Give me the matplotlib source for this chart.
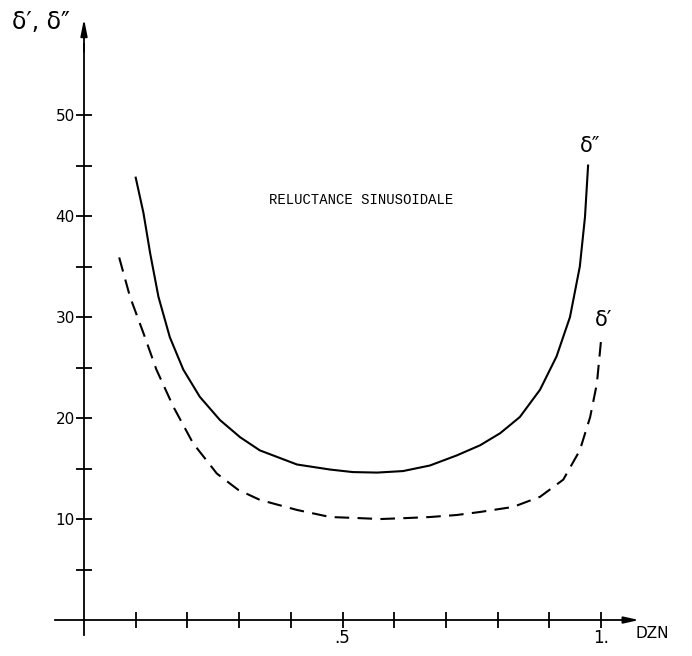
import matplotlib
matplotlib.use("Agg")
from matplotlib import pyplot as plt
import matplotlib.ticker as mticker

# curve delta'' (solid)
dzn_solid = [0.100, 0.115, 0.128, 0.144, 0.166, 0.192, 0.224, 0.263, 0.302,
             0.340, 0.412, 0.476, 0.520, 0.567, 0.617, 0.669, 0.721, 0.766,
             0.805, 0.843, 0.882, 0.914, 0.940, 0.959, 0.969, 0.975]
delta2 = [43.8, 40.3, 36.3, 32.0, 28.0, 24.8, 22.1, 19.8, 18.1,
          16.8, 15.4, 14.9, 14.65, 14.6, 14.75, 15.3, 16.3, 17.3,
          18.5, 20.1, 22.8, 26.1, 30.0, 35.0, 39.9, 45.0]

# curve delta' (dashed)
dzn_dashed = [0.068, 0.089, 0.115, 0.140, 0.173, 0.211, 0.257, 0.298,
              0.340, 0.412, 0.476, 0.528, 0.573, 0.625, 0.669, 0.721, 0.766,
              0.830, 0.882, 0.927, 0.959, 0.979, 0.992, 1.001]
delta1 = [35.9, 32.0, 28.4, 24.8, 21.1, 17.5, 14.5, 12.9,
          11.9, 10.9, 10.2, 10.1, 10.0, 10.1, 10.2, 10.4, 10.7,
          11.2, 12.2, 13.9, 16.8, 20.1, 23.4, 28.2]

y_major = [10, 20, 30, 40, 50]
y_minor = [5, 15, 25, 35, 45]
x_major = [0.5, 1.0]
x_major_labels = ['.5', '1.']
x_minor = [0.1, 0.2, 0.3, 0.4, 0.6, 0.7, 0.8, 0.9]

fig = plt.figure(figsize=(6.92, 6.56), dpi=100)
ax = fig.add_axes([0, 0, 1, 1])
ax.set_xlim(-0.1625, 1.176)
ax.set_ylim(-3.56, 61.39)

ax.plot(dzn_solid, delta2, color='black', lw=1.5)
ax.plot(dzn_dashed, delta1, color='black', lw=1.5, dashes=(7, 4))

# axes drawn through the origin, hand-drawn style
for s in ['top', 'right']:
    ax.spines[s].set_visible(False)
ax.spines['left'].set_position(('data', 0))
ax.spines['bottom'].set_position(('data', 0))
ax.spines['left'].set_bounds(-1.5, 57)
ax.spines['bottom'].set_bounds(-0.057, 1.05)
ax.spines['left'].set_linewidth(1.3)
ax.spines['bottom'].set_linewidth(1.3)

ax.annotate('', xy=(0, 59.8), xytext=(0, 56),
            arrowprops=dict(arrowstyle='-|>,head_length=1.0,head_width=0.2',
                            color='black', lw=1.3))
ax.annotate('', xy=(1.079, 0), xytext=(1.04, 0),
            arrowprops=dict(arrowstyle='-|>,head_length=0.9,head_width=0.2',
                            color='black', lw=1.3))

ax.yaxis.set_major_locator(mticker.FixedLocator(y_major))
ax.yaxis.set_minor_locator(mticker.FixedLocator(y_minor))
ax.xaxis.set_major_locator(mticker.FixedLocator(x_major))
ax.xaxis.set_major_formatter(mticker.FixedFormatter(x_major_labels))
ax.xaxis.set_minor_locator(mticker.FixedLocator(x_minor))
ax.yaxis.set_minor_formatter(mticker.NullFormatter())
ax.xaxis.set_minor_formatter(mticker.NullFormatter())

ax.tick_params(which='both', direction='inout', length=11, width=1.3, colors='black')
ax.tick_params(axis='y', labelsize=11, pad=1)
ax.tick_params(axis='x', labelsize=12, pad=1)

ax.text(1.099, -1.3, 'DZN', fontsize=11, ha='center', va='center')
ax.text(0.536, 41.6, 'RELUCTANCE SINUSOIDALE', family='Liberation Mono',
        fontsize=10, ha='center', va='center')
ax.text(0.979, 46.9, 'δ″', fontsize=15, ha='center', va='center')
ax.text(1.006, 29.7, 'δ′', fontsize=15, ha='center', va='center')
ax.text(-0.14, 59.2, 'δ′, δ″', fontsize=17, ha='left', va='center')

fig.savefig('out.png', dpi=100)
